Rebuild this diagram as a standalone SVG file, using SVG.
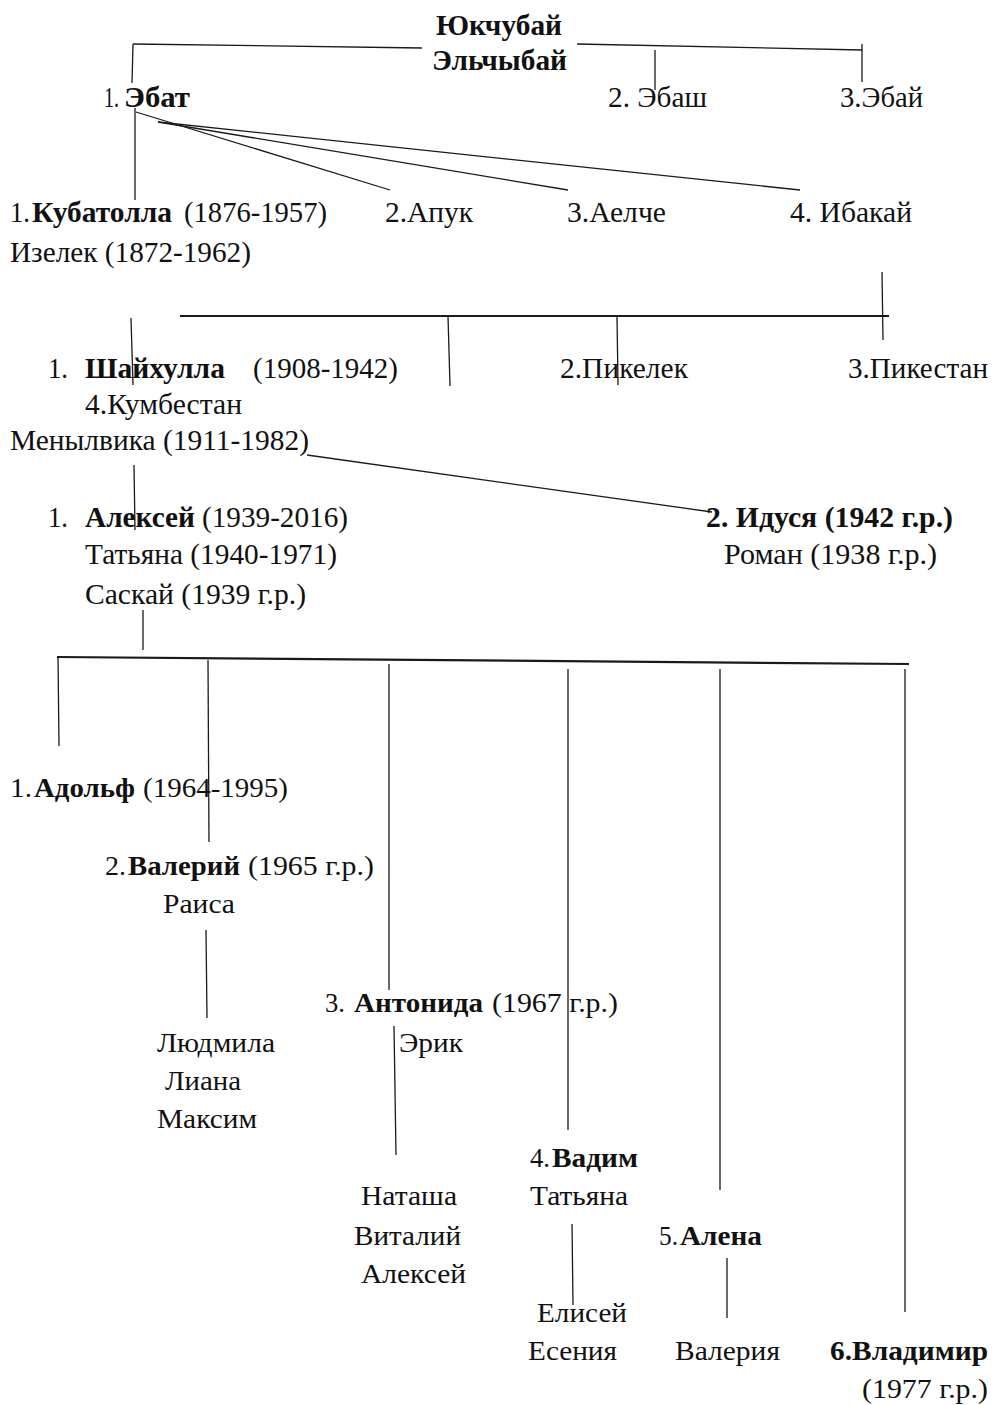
<svg xmlns="http://www.w3.org/2000/svg" width="994" height="1405" viewBox="0 0 994 1405">
<style>
text{font-family:"Liberation Serif","Times New Roman",serif;font-size:27px;fill:#111;}
.b{font-weight:bold;}
.h{font-size:29px;}
.c line,.c polyline{stroke:#1a1a1a;stroke-width:1.3;fill:none;}
.t{stroke-width:2.2 !important;}
</style>
<rect width="994" height="1405" fill="#fff"/>
<g class="c" id="connectors">
<line x1="133" y1="44" x2="422" y2="48"/>
<line x1="577" y1="44" x2="862" y2="50"/>
<line x1="133" y1="44" x2="132" y2="83"/>
<line x1="862" y1="44" x2="862" y2="82"/>
<line x1="655" y1="50" x2="655" y2="90"/>
<line x1="135" y1="108" x2="135" y2="200"/>
<line x1="136" y1="112" x2="390" y2="190"/>
<line x1="158" y1="122" x2="568" y2="190"/>
<line x1="158" y1="122" x2="800" y2="190"/>
<line x1="882" y1="272" x2="883" y2="340"/>
<line class="t" x1="180" y1="316" x2="889" y2="316"/>
<line x1="448" y1="316" x2="450" y2="386"/>
<line x1="617" y1="316" x2="618" y2="385"/>
<line x1="131" y1="318" x2="133" y2="385"/>
<line x1="307" y1="455" x2="712" y2="512"/>
<line x1="134" y1="465" x2="135" y2="530"/>
<line x1="143" y1="610" x2="143" y2="650"/>
<line class="t" x1="57" y1="657" x2="909" y2="664"/>
<line x1="58" y1="657" x2="59" y2="746"/>
<line x1="208" y1="660" x2="209" y2="842"/>
<line x1="389" y1="664" x2="389" y2="990"/>
<line x1="568" y1="669" x2="568" y2="1130"/>
<line x1="720" y1="669" x2="720" y2="1190"/>
<line x1="905" y1="669" x2="905" y2="1312"/>
<line x1="206" y1="930" x2="207" y2="1018"/>
<line x1="394" y1="1026" x2="396" y2="1155"/>
<line x1="572" y1="1224" x2="573" y2="1305"/>
<line x1="727" y1="1258" x2="727" y2="1318"/>
</g>
<g id="n-yukchubay">
<text class="b h" x="436" y="35" textLength="126" lengthAdjust="spacingAndGlyphs">Юкчубай</text>
<text class="b h" x="432" y="70" textLength="135" lengthAdjust="spacingAndGlyphs">Эльчыбай</text>
</g>
<g id="n-ebat">
<text class="h" x="104" y="107" textLength="15" lengthAdjust="spacingAndGlyphs">1.</text>
<text class="b h" x="124" y="107" textLength="66" lengthAdjust="spacingAndGlyphs">Эбат</text>
</g>
<g id="n-ebash"><text class="h" x="608" y="107" textLength="99" lengthAdjust="spacingAndGlyphs">2. Эбаш</text></g>
<g id="n-ebay"><text class="h" x="840" y="107" textLength="83" lengthAdjust="spacingAndGlyphs">3.Эбай</text></g>
<g id="n-kubatolla">
<text class="h" x="10" y="222" textLength="20" lengthAdjust="spacingAndGlyphs">1.</text>
<text class="b h" x="32" y="222" textLength="140" lengthAdjust="spacingAndGlyphs">Кубатолла</text>
<text class="h" x="184" y="222" textLength="143" lengthAdjust="spacingAndGlyphs">(1876-1957)</text>
<text class="h" x="10" y="262" textLength="241" lengthAdjust="spacingAndGlyphs">Изелек (1872-1962)</text>
</g>
<g id="n-apuk"><text class="h" x="385" y="222" textLength="88" lengthAdjust="spacingAndGlyphs">2.Апук</text></g>
<g id="n-aelche"><text class="h" x="567" y="222" textLength="99" lengthAdjust="spacingAndGlyphs">3.Аелче</text></g>
<g id="n-ibakay"><text class="h" x="790" y="222" textLength="122" lengthAdjust="spacingAndGlyphs">4. Ибакай</text></g>
<g id="n-shayhulla">
<text class="h" x="48" y="378" textLength="20" lengthAdjust="spacingAndGlyphs">1.</text>
<text class="b h" x="85" y="378" textLength="140" lengthAdjust="spacingAndGlyphs">Шайхулла</text>
<text class="h" x="253" y="378" textLength="145" lengthAdjust="spacingAndGlyphs">(1908-1942)</text>
<text class="h" x="85" y="414" textLength="157" lengthAdjust="spacingAndGlyphs">4.Кумбестан</text>
<text class="h" x="10" y="450" textLength="299" lengthAdjust="spacingAndGlyphs">Менылвика (1911-1982)</text>
</g>
<g id="n-pikelek"><text class="h" x="560" y="378" textLength="128" lengthAdjust="spacingAndGlyphs">2.Пикелек</text></g>
<g id="n-pikestan"><text class="h" x="848" y="378" textLength="140" lengthAdjust="spacingAndGlyphs">3.Пикестан</text></g>
<g id="n-aleksey">
<text class="h" x="48" y="527" textLength="20" lengthAdjust="spacingAndGlyphs">1.</text>
<text class="b h" x="85" y="527" textLength="110" lengthAdjust="spacingAndGlyphs">Алексей</text>
<text class="h" x="202" y="527" textLength="146" lengthAdjust="spacingAndGlyphs">(1939-2016)</text>
<text class="h" x="85" y="564" textLength="252" lengthAdjust="spacingAndGlyphs">Татьяна (1940-1971)</text>
<text class="h" x="85" y="604" textLength="221" lengthAdjust="spacingAndGlyphs">Саскай (1939 г.р.)</text>
</g>
<g id="n-idusya">
<text class="b h" x="706" y="527" textLength="247" lengthAdjust="spacingAndGlyphs">2. Идуся (1942 г.р.)</text>
<text class="h" x="724" y="564" textLength="213" lengthAdjust="spacingAndGlyphs">Роман (1938 г.р.)</text>
</g>
<g id="n-adolf">
<text x="10" y="797" textLength="22" lengthAdjust="spacingAndGlyphs">1.</text>
<text class="b" x="34" y="797" textLength="101" lengthAdjust="spacingAndGlyphs">Адольф</text>
<text x="143" y="797" textLength="145" lengthAdjust="spacingAndGlyphs">(1964-1995)</text>
</g>
<g id="n-valeriy">
<text x="105" y="875" textLength="21" lengthAdjust="spacingAndGlyphs">2.</text>
<text class="b" x="128" y="875" textLength="112" lengthAdjust="spacingAndGlyphs">Валерий</text>
<text x="248" y="875" textLength="126" lengthAdjust="spacingAndGlyphs">(1965 г.р.)</text>
<text x="163" y="913" textLength="72" lengthAdjust="spacingAndGlyphs">Раиса</text>
</g>
<g id="n-valeriy-children">
<text x="157" y="1052" textLength="118" lengthAdjust="spacingAndGlyphs">Людмила</text>
<text x="165" y="1090" textLength="76" lengthAdjust="spacingAndGlyphs">Лиана</text>
<text x="157" y="1128" textLength="100" lengthAdjust="spacingAndGlyphs">Максим</text>
</g>
<g id="n-antonida">
<text x="325" y="1012" textLength="20" lengthAdjust="spacingAndGlyphs">3.</text>
<text class="b" x="354" y="1012" textLength="129" lengthAdjust="spacingAndGlyphs">Антонида</text>
<text x="492" y="1012" textLength="126" lengthAdjust="spacingAndGlyphs">(1967 г.р.)</text>
<text x="399" y="1052" textLength="64" lengthAdjust="spacingAndGlyphs">Эрик</text>
</g>
<g id="n-antonida-children">
<text x="361" y="1205" textLength="96" lengthAdjust="spacingAndGlyphs">Наташа</text>
<text x="354" y="1245" textLength="107" lengthAdjust="spacingAndGlyphs">Виталий</text>
<text x="361" y="1283" textLength="105" lengthAdjust="spacingAndGlyphs">Алексей</text>
</g>
<g id="n-vadim">
<text x="530" y="1167" textLength="20" lengthAdjust="spacingAndGlyphs">4.</text>
<text class="b" x="552" y="1167" textLength="86" lengthAdjust="spacingAndGlyphs">Вадим</text>
<text x="530" y="1205" textLength="98" lengthAdjust="spacingAndGlyphs">Татьяна</text>
</g>
<g id="n-vadim-children">
<text x="537" y="1322" textLength="90" lengthAdjust="spacingAndGlyphs">Елисей</text>
<text x="528" y="1360" textLength="89" lengthAdjust="spacingAndGlyphs">Есения</text>
</g>
<g id="n-alena">
<text x="659" y="1245" textLength="19" lengthAdjust="spacingAndGlyphs">5.</text>
<text class="b" x="680" y="1245" textLength="82" lengthAdjust="spacingAndGlyphs">Алена</text>
</g>
<g id="n-alena-children">
<text x="675" y="1360" textLength="105" lengthAdjust="spacingAndGlyphs">Валерия</text>
</g>
<g id="n-vladimir">
<text class="b" x="830" y="1360" textLength="158" lengthAdjust="spacingAndGlyphs">6.Владимир</text>
<text x="862" y="1398" textLength="126" lengthAdjust="spacingAndGlyphs">(1977 г.р.)</text>
</g>
</svg>
